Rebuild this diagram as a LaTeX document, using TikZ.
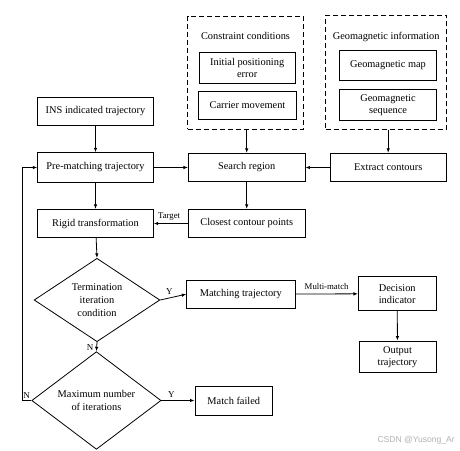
\documentclass[tikz,border=0pt]{standalone}
\usepackage{fontspec}
\setmainfont{Liberation Serif}
\newfontfamily\wmfont{Liberation Sans}
\usetikzlibrary{shapes.geometric,arrows.meta}
\tikzset{
  box/.style={draw, line width=0.8bp, inner sep=1bp, align=center, font=\fontsize{10.4}{12}\selectfont},
  dbox/.style={draw, line width=0.8bp, dash pattern=on 5bp off 3bp},
  dia/.style={draw, diamond, line width=0.8bp, inner sep=0pt, align=center, font=\fontsize{10.4}{13}\selectfont},
  arr/.style={line width=0.8bp, -{Latex[length=4.5bp,width=3.5bp]}},
  small/.style={font=\fontsize{8.8}{10}\selectfont, inner sep=0pt},
  yn/.style={font=\fontsize{9}{10}\selectfont, inner sep=0pt}
}
\begin{document}
\begin{tikzpicture}[x=1bp,y=-1bp]
\useasboundingbox[fill=white] (0,0) rectangle (460,451);
% dashed containers
\node[dbox, minimum width=115.6bp, minimum height=113.3bp] (cons) at (245.5,72.7) {};
\node[dbox, minimum width=121bp, minimum height=114.3bp] (geo) at (386.2,72.2) {};
\node[font=\fontsize{10.4}{12}\selectfont, inner sep=0pt] (constitle) at (245.5,35.5) {Constraint conditions};
\node[font=\fontsize{10.4}{12}\selectfont, inner sep=0pt] (geotitle) at (386.2,36.5) {Geomagnetic information};
\node[box, minimum width=95.7bp, minimum height=30.6bp] (init) at (247.2,68) {Initial positioning\\error};
\node[box, minimum width=98.4bp, minimum height=27.3bp] (carrier) at (247.5,105.3) {Carrier movement};
\node[box, minimum width=97.4bp, minimum height=30bp] (gmap) at (388,65) {Geomagnetic map};
\node[box, minimum width=97.4bp, minimum height=30.7bp] (gseq) at (388,104.7) {Geomagnetic\\sequence};
% left column
\node[box, minimum width=115.6bp, minimum height=28.4bp] (ins) at (95.5,111.5) {INS indicated trajectory};
\node[box, minimum width=115.6bp, minimum height=29.6bp] (pre) at (95.5,167.5) {Pre-matching trajectory};
\node[box, minimum width=115.6bp, minimum height=28.4bp] (rigid) at (95.5,223.5) {Rigid transformation};
% middle
\node[box, minimum width=116.7bp, minimum height=28.4bp] (search) at (246.7,167.5) {Search region};
\node[box, minimum width=116.7bp, minimum height=28.4bp] (closest) at (246.7,223.5) {Closest contour points};
\node[box, minimum width=116bp, minimum height=28.4bp] (extract) at (388.2,167.5) {Extract contours};
% diamonds
\node[dia, minimum width=125.7bp, minimum height=83.4bp] (d1) at (97,300) {Termination\\iteration\\condition};
\node[dia, minimum width=129.3bp, minimum height=87.6bp] (d2) at (96.4,400.5) {Maximum number\\of iterations};
% right
\node[box, minimum width=108.3bp, minimum height=28.3bp] (match) at (240.8,294.2) {Matching trajectory};
\node[box, minimum width=77.7bp, minimum height=34bp] (decision) at (397.2,293.7) {Decision\\indicator};
\node[box, minimum width=77bp, minimum height=31.7bp] (output) at (397.5,356.8) {Output\\trajectory};
\node[box, minimum width=77.7bp, minimum height=29bp] (failed) at (233.8,400.5) {Match failed};
% connectors
\draw[arr] (ins) -- (pre);
\draw[arr] (pre) -- (search);
\draw[arr] (pre) -- (rigid);
\draw[arr] (cons.south -| search.north) -- (search.north);
\draw[arr] (geo.south -| extract.north) -- (extract.north);
\draw[arr] (extract) -- (search);
\draw[arr] (search) -- (closest);
\draw[arr] (closest) -- node[small, above=3bp, pos=0.55] (tgt) {Target} (rigid);
\draw[arr] (rigid) -- (d1.north);
\draw[arr] (d1.east) -- node[yn, above=3bp, pos=0.35] (y1) {Y} (match.west);
\draw[arr] (match) -- node[small, above=4bp] (mm) {Multi-match} (decision);
\draw[arr] (decision) -- (output);
\draw[arr] (d1.south) -- node[yn, left=3bp, pos=0.6] (n1) {N} (d2.north);
\draw[arr] (d2.east) -- node[yn, above=3bp, pos=0.3] (y2) {Y} (failed.west);
\coordinate (fb) at (22.7,400.5);
\draw[arr] (d2.west) -- (fb) |- (pre.west);
\node[yn, anchor=south] (n2) at (26.7,399) {N};
% watermark
\node[font=\wmfont\fontsize{8.6}{10}\selectfont, text=black!30, anchor=east, inner sep=0pt] (wm) at (455,440) {CSDN @Yusong\_Ar};
\end{tikzpicture}
\end{document}
